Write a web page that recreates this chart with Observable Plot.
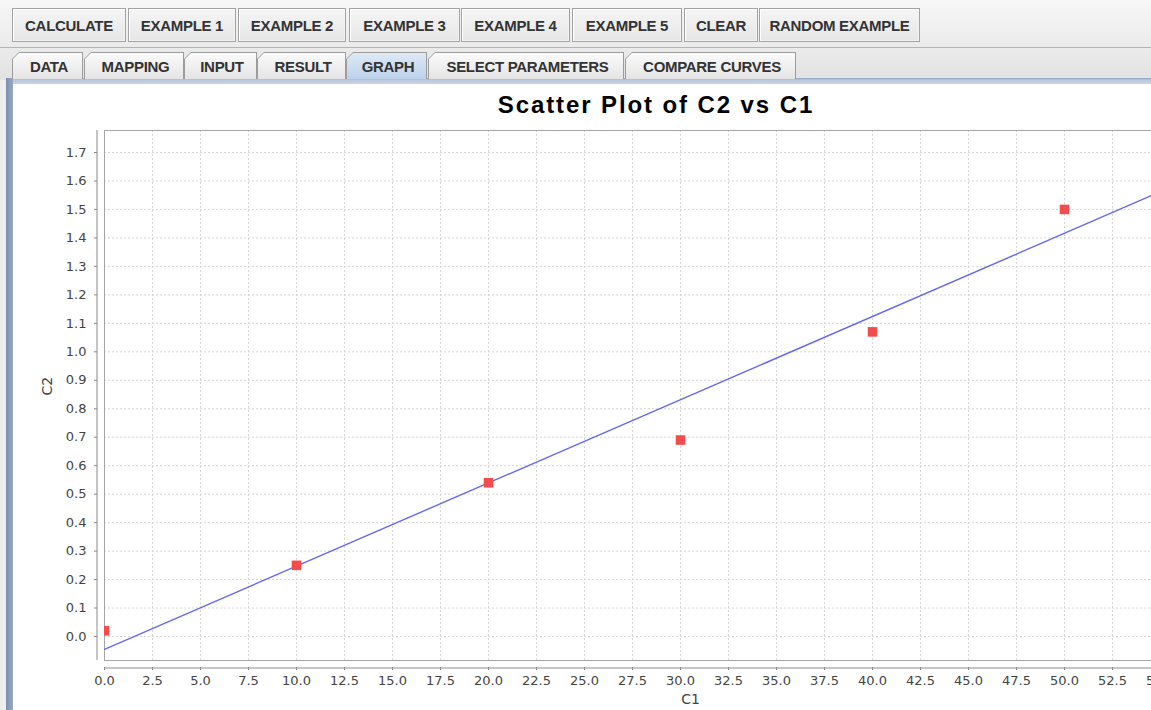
<!DOCTYPE html>
<html><head><meta charset="utf-8">
<script src="https://cdn.jsdelivr.net/npm/d3@7"></script>
<script src="https://cdn.jsdelivr.net/npm/@observablehq/plot@0.6"></script>
<style>
html,body{margin:0;padding:0;width:1151px;height:710px;overflow:hidden;background:#eeeeee;font-family:"Liberation Sans",Arial,sans-serif;}
#top{position:absolute;left:0;top:0;width:1151px;height:80px;background:linear-gradient(#f7f7f7,#e2e2e2);}
.btn{position:absolute;top:8px;height:34px;box-sizing:border-box;border:1px solid #a3a3a3;box-shadow:inset 1px 1px 0 #fff, inset -1px -1px 0 #f2f2f2;background:linear-gradient(#f5f5f5,#e6e6e6);font-weight:bold;font-size:15px;color:#333;display:flex;align-items:center;justify-content:center;letter-spacing:-0.3px;}
#sep{position:absolute;left:0;top:47px;width:1151px;height:1px;background:#b4b4b4;}
.tab{position:absolute;top:52px;height:27px;background:#9c9c9c;clip-path:polygon(0 100%,0 7px,7px 0,100% 0,100% 100%);}
.tabin{position:absolute;left:1px;top:1px;right:1px;bottom:0;clip-path:polygon(0 100%,0 6px,6px 0,100% 0,100% 100%);background:linear-gradient(#fbfbfb,#e4e4e4);font-weight:bold;font-size:15px;color:#333;display:flex;align-items:center;justify-content:center;letter-spacing:-0.3px;padding-left:3px;box-sizing:border-box;}
.tab.sel .tabin{background:linear-gradient(#dde9f6,#bcd2ea);}
#tb{position:absolute;left:6px;top:78px;width:1145px;height:6px;background:linear-gradient(#8ea0bf,#b9c8de 30%,#c9d5e6);}
#lb{position:absolute;left:6px;top:78px;width:7px;height:632px;background:linear-gradient(90deg,#7d8fb0,#98a9c6);}
#panel{position:absolute;left:13px;top:84px;width:1138px;height:626px;background:#fff;}
#title{position:absolute;left:0;top:91px;width:1312px;text-align:center;font-weight:bold;font-size:24px;letter-spacing:1.9px;color:#000;font-family:"Liberation Sans",Arial,sans-serif;}
#chart{position:absolute;left:0;top:120px;width:1320px;height:590px;}
#chart svg{max-width:none !important;width:1320px;height:590px;}
</style></head>
<body>
<div id="top"></div>
<div id="sep"></div>
<div id="tb"></div>
<div id="panel"></div>
<div id="lb"></div>
<div id="title"></div>
<div id="chart"></div>
<script>
// ---- data ----
const buttonLabels = ["CALCULATE","EXAMPLE 1","EXAMPLE 2","EXAMPLE 3","EXAMPLE 4","EXAMPLE 5","CLEAR","RANDOM EXAMPLE"];
const tabLabels = ["DATA","MAPPING","INPUT","RESULT","GRAPH","SELECT PARAMETERS","COMPARE CURVES"];
const selectedTab = "GRAPH";
const chartTitle = "Scatter Plot of C2 vs C1";
const xLabel = "C1";
const yLabel = "C2";
const C1 = [0, 10, 20, 30, 40, 50];
const C2 = [0.02, 0.25, 0.54, 0.69, 1.07, 1.50];
const fitC1 = [0, 61.04];
const fitC2 = [-0.045, 1.739];
const xTicks = [0,2.5,5,7.5,10,12.5,15,17.5,20,22.5,25,27.5,30,32.5,35,37.5,40,42.5,45,47.5,50,52.5,55,57.5,60];
const yTicks = [0,0.1,0.2,0.3,0.4,0.5,0.6,0.7,0.8,0.9,1.0,1.1,1.2,1.3,1.4,1.5,1.6,1.7];
const xDomain = [0, 61.04];
const yDomain = [-0.0843, 1.7773];

// ---- UI chrome ----
const btnBox = [[12,114],[128,108],[238,108],[349,111],[461,109],[572,110],[684,74],[759,161]];
buttonLabels.forEach((t,i)=>{
  const d=document.createElement("div");d.className="btn";d.textContent=t;
  d.style.left=btnBox[i][0]+"px";d.style.width=btnBox[i][1]+"px";document.body.appendChild(d);
});
const tabBox = [[12,71],[84,100],[184,73],[257,89],[346,81],[428,196],[625,171]];
tabLabels.forEach((t,i)=>{
  const d=document.createElement("div");d.className="tab"+(t===selectedTab?" sel":"");
  d.style.left=tabBox[i][0]+"px";d.style.width=tabBox[i][1]+"px";
  const n=document.createElement("div");n.className="tabin";n.textContent=t;d.appendChild(n);
  document.body.appendChild(d);
});
document.getElementById("title").textContent = chartTitle;

// ---- chart ----
const pts = C1.map((x,i)=>({x, y:C2[i]}));
const fit = fitC1.map((x,i)=>({x, y:fitC2[i]}));
const fmt = d => d.toFixed(1);
const chart = Plot.plot({
  width: 1320, height: 590,
  marginLeft: 104, marginRight: 44, marginTop: 10, marginBottom: 50,
  x: {domain: xDomain},
  y: {domain: yDomain},
  style: {background: "transparent", fontFamily: "DejaVu Sans", fontSize: "13px", color: "#444", overflow: "visible", maxWidth: "none"},
  marks: [
    Plot.ruleX(xTicks, {stroke: "#d6d6d6", strokeDasharray: "2,2"}),
    Plot.ruleY(yTicks, {stroke: "#d6d6d6", strokeDasharray: "2,2"}),
    Plot.frame({stroke: "#a6a6a6"}),
    Plot.line(fit, {x: "x", y: "y", stroke: "#6868f0", strokeWidth: 1.4, clip: true}),
    Plot.dot(pts, {x: "x", y: "y", symbol: "square", r: 5.4, fill: "#f24c4c", stroke: "none", clip: true}),
    Plot.ruleX([xDomain[0]], {dx: -7.5, stroke: "#8a8a8a"}),
    Plot.ruleY([yDomain[0]], {dy: 7.5, stroke: "#8a8a8a"}),
    Plot.axisX(xTicks, {tickFormat: fmt, tickSize: 3, tickPadding: 5, dy: 7, label: null, stroke: "#8a8a8a", fill: "#444"}),
    Plot.axisY(yTicks, {tickFormat: fmt, tickSize: 3, tickPadding: 8, dx: -7, label: null, stroke: "#8a8a8a", fill: "#444"}),
    Plot.text([xLabel], {text: d => d, frameAnchor: "bottom", dy: 43, fontSize: 14, fill: "#444"}),
    Plot.text([yLabel], {text: d => d, frameAnchor: "left", dx: -57, rotate: -90, fontSize: 14, fill: "#444"})
  ]
});
document.getElementById("chart").appendChild(chart);
</script>
</body></html>
